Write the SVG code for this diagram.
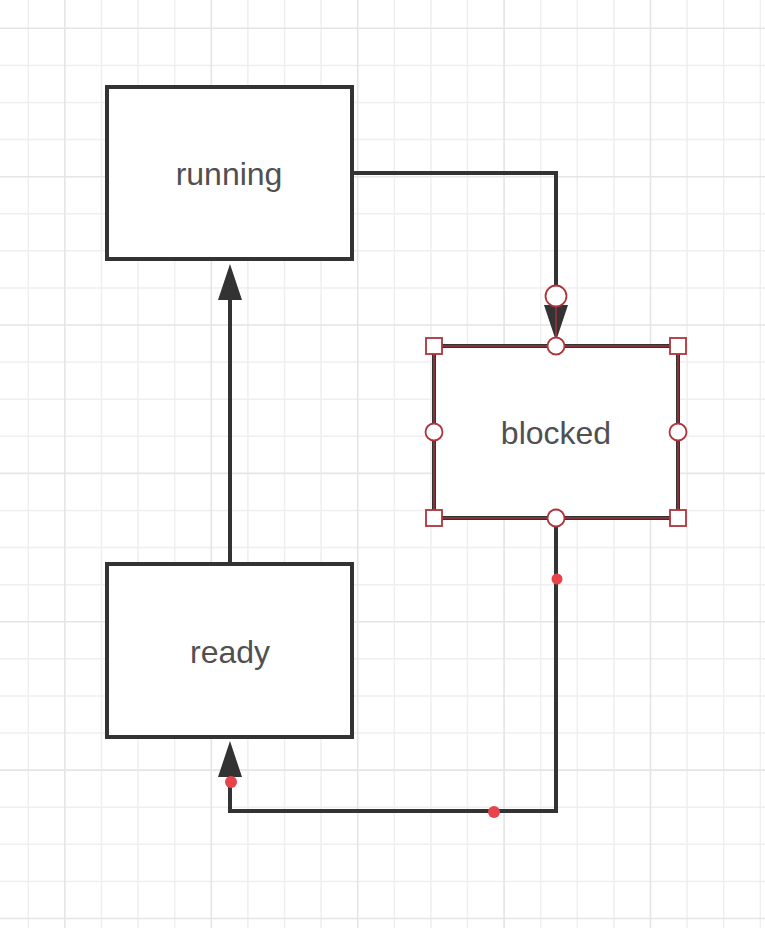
<svg xmlns="http://www.w3.org/2000/svg" width="765" height="928" viewBox="0 0 765 928">
<style>
.minor{stroke:#efefef;stroke-width:1.5;fill:none}
.major{stroke:#e5e5e5;stroke-width:1.6;fill:none}
.box{fill:#fff;stroke:#333;stroke-width:4}
.lbl{font-family:"Liberation Sans",Arial,sans-serif;font-size:32px;fill:#505050;text-anchor:middle}
.conn{fill:none;stroke:#333;stroke-width:4;stroke-linejoin:miter}
.sel{fill:none;stroke:#a8323a;stroke-width:1.5}
.hs{fill:#fff;stroke:#b0343c;stroke-width:1.8}
.dot{fill:#e8434b}
</style>
<defs>
<marker id="arr" viewBox="0 0 36 24" refX="0" refY="12" markerWidth="36" markerHeight="24" markerUnits="userSpaceOnUse" orient="auto">
<path d="M0,0 L36,12 L0,24 z" fill="#333"/>
</marker>
</defs>
<rect width="765" height="928" fill="#fff"/>
<g id="grid">
<path class="minor" d="M28.3,0V928 M101.5,0V928 M138.1,0V928 M174.7,0V928 M247.9,0V928 M284.5,0V928 M321.1,0V928 M394.3,0V928 M430.9,0V928 M467.5,0V928 M540.7,0V928 M577.3,0V928 M613.9,0V928 M687.1,0V928 M723.7,0V928 M760.3,0V928 M0,65.4H765 M0,102.5H765 M0,139.6H765 M0,213.8H765 M0,250.8H765 M0,287.9H765 M0,362.1H765 M0,399.2H765 M0,436.3H765 M0,510.5H765 M0,547.6H765 M0,584.7H765 M0,658.8H765 M0,695.9H765 M0,733H765 M0,807.2H765 M0,844.3H765 M0,881.4H765"/>
<path class="major" d="M64.9,0V928 M211.3,0V928 M357.7,0V928 M504.1,0V928 M650.5,0V928 M0,28.3H765 M0,176.7H765 M0,325H765 M0,473.4H765 M0,621.7H765 M0,770.1H765 M0,918.5H765"/>
</g>
<g id="connectors">
<path id="running-blocked" class="conn" d="M352,173 H556 V305" marker-end="url(#arr)"/>
<path id="ready-running" class="conn" d="M230,564 V300" marker-end="url(#arr)"/>
<path id="blocked-ready" class="conn" d="M556,518 V811 H230 V777" marker-end="url(#arr)"/>
</g>
<g id="running">
<rect class="box" x="107" y="87" width="245" height="172"/>
<text class="lbl" x="229" y="185">running</text>
</g>
<g id="ready">
<rect class="box" x="107" y="564" width="245" height="173"/>
<text class="lbl" x="230" y="663">ready</text>
</g>
<g id="blocked">
<rect class="box" x="434" y="346" width="244" height="172"/>
<rect class="sel" x="434" y="346" width="244" height="172"/>
<text class="lbl" x="556" y="444">blocked</text>
</g>
<g id="selection">
<line class="sel" x1="556" y1="306" x2="556" y2="338"/>
<circle class="hs" cx="556" cy="296" r="10.5"/>
<rect class="hs" x="426" y="338" width="16" height="16"/>
<rect class="hs" x="670" y="338" width="16" height="16"/>
<rect class="hs" x="426" y="510" width="16" height="16"/>
<rect class="hs" x="670" y="510" width="16" height="16"/>
<circle class="hs" cx="556" cy="346" r="8.5"/>
<circle class="hs" cx="556" cy="518" r="8.5"/>
<circle class="hs" cx="434" cy="432" r="8.5"/>
<circle class="hs" cx="678" cy="432" r="8.5"/>
</g>
<g id="waypoints">
<circle class="dot" cx="557" cy="579" r="5.5"/>
<circle class="dot" cx="231" cy="782" r="6"/>
<circle class="dot" cx="494" cy="812" r="6"/>
</g>
</svg>
